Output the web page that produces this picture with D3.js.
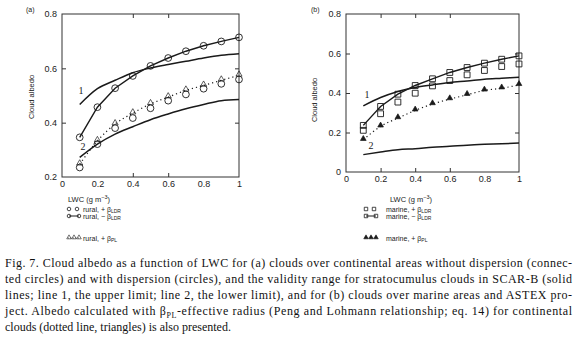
<!DOCTYPE html>
<html><head><meta charset="utf-8">
<script src="https://cdn.jsdelivr.net/npm/d3@7"></script>
<style>
body{margin:0;background:#fff;}
svg{display:block;}
.ax{font-family:"Liberation Sans",Arial,sans-serif;fill:#222;}
.cap{font-family:"Liberation Serif","Times New Roman",serif;font-size:12px;fill:#111;}
</style></head>
<body><svg id="c" width="578" height="345"></svg>
<script>
// ---------- data ----------
const lwc = [0.1,0.2,0.3,0.4,0.5,0.6,0.7,0.8,0.9,1.0];
const xTickVals = [0,0.2,0.4,0.6,0.8,1];
const xTickLabels = ["0","0.2","0.4","0.6","0.8","1"];
const yTicksA = [0.2,0.4,0.6,0.8];
const yTicksB = [0,0.2,0.4,0.6,0.8];

// panel (a) rural
const ruralPlusLDR  = [0.235,0.321,0.380,0.417,0.453,0.481,0.504,0.525,0.543,0.559];
const ruralMinusLDR = [0.346,0.457,0.527,0.572,0.609,0.638,0.663,0.683,0.699,0.714];
const ruralPL       = [0.247,0.333,0.395,0.435,0.469,0.494,0.519,0.537,0.556,0.574];
const ruralUpper    = [0.467,0.525,0.556,0.584,0.601,0.614,0.626,0.638,0.648,0.654];
const ruralLower    = [0.272,0.321,0.358,0.385,0.411,0.432,0.451,0.467,0.481,0.485];

// panel (b) marine
const marinePlusLDR  = [0.211,0.295,0.354,0.399,0.436,0.463,0.492,0.514,0.534,0.547];
const marineMinusLDR = [0.236,0.332,0.394,0.438,0.472,0.504,0.529,0.551,0.571,0.588];
const marinePL       = [0.163,0.231,0.273,0.312,0.344,0.369,0.391,0.413,0.424,0.441];
const marineUpper    = [0.335,0.377,0.408,0.428,0.441,0.453,0.461,0.470,0.475,0.480];
const marineLower    = [0.088,0.101,0.113,0.118,0.125,0.130,0.136,0.140,0.143,0.147];

const captionLines = [
 ["Fig. 7. Cloud albedo as a function of LWC for (a) clouds over continental areas without dispersion (connec-"],
 ["ted circles) and with dispersion (circles), and the validity range for stratocumulus clouds in SCAR-B (solid"],
 ["lines; line 1, the upper limit; line 2, the lower limit), and for (b) clouds over marine areas and ASTEX pro-"],
 ["ject. Albedo calculated with β","PL","-effective radius (Peng and Lohmann relationship; eq. 14) for continental"],
 ["clouds (dotted line, triangles) is also presented."]
];

// ---------- drawing ----------
const svg = d3.select("#c");
const ink = "#1a1a1a";

function panel(cfg){
  const g = svg.append("g");
  const x = d3.scaleLinear().domain([0,1]).range([cfg.x0,cfg.x1]);
  const y = d3.scaleLinear().domain(cfg.yDomain).range([cfg.y1,cfg.y0]);
  g.append("rect").attr("x",cfg.x0).attr("y",cfg.y0).attr("width",cfg.x1-cfg.x0).attr("height",cfg.y1-cfg.y0)
   .attr("fill","none").attr("stroke","#333").attr("stroke-width",1);
  const tl = 4;
  g.append("g").attr("transform",`translate(0,${cfg.y1})`)
   .call(d3.axisBottom(x).tickValues(xTickVals).tickSize(-tl).tickPadding(4).tickFormat((d,i)=>xTickLabels[i]))
   .call(s=>s.select(".domain").remove());
  g.append("g").attr("transform",`translate(0,${cfg.y0})`)
   .call(d3.axisTop(x).tickValues(xTickVals.slice(1,-1)).tickSize(-tl).tickFormat(""))
   .call(s=>s.select(".domain").remove());
  g.append("g").attr("transform",`translate(${cfg.x0},0)`)
   .call(d3.axisLeft(y).tickValues(cfg.yTicks).tickSize(-tl).tickPadding(5).tickFormat(d=>d===0?"0":d3.format(".1f")(d)))
   .call(s=>s.select(".domain").remove());
  g.append("g").attr("transform",`translate(${cfg.x1},0)`)
   .call(d3.axisRight(y).tickValues(cfg.yTicks.slice(1,-1)).tickSize(-tl).tickFormat(""))
   .call(s=>s.select(".domain").remove());
  g.selectAll(".tick line").attr("stroke","#333");
  g.selectAll(".tick text").attr("class","ax").attr("font-size",9).attr("fill","#222");
  g.selectAll(".tick").filter(d=>d===0||d===1).select("line").remove();
  g.selectAll(".tick").filter(d=>d===cfg.yDomain[0]||d===cfg.yDomain[1]).select("line").remove();

  g.append("text").attr("class","ax").attr("font-size",7.5)
   .attr("transform",`translate(${cfg.ylabX},${cfg.ylabY}) rotate(-90)`).attr("text-anchor","middle").text("Cloud albedo");
  const xt = g.append("text").attr("class","ax").attr("font-size",7.5).attr("x",cfg.xlabX).attr("y",cfg.xlabY).attr("text-anchor","middle");
  xt.append("tspan").text("LWC (g m");
  xt.append("tspan").attr("font-size",5.5).attr("dy",-3).text("−3");
  xt.append("tspan").attr("dy",3).text(")");
  g.append("text").attr("class","ax").attr("font-size",7).attr("x",cfg.tagX).attr("y",12).text(cfg.tag);

  const line = d3.line().x((d,i)=>x(lwc[i])).y(d=>y(d)).curve(d3.curveMonotoneX);
  const lineStraight = d3.line().x((d,i)=>x(lwc[i])).y(d=>y(d));
  [cfg.upper,cfg.lower].forEach(arr=>{
    g.append("path").attr("d",line(arr)).attr("fill","none").attr("stroke",ink).attr("stroke-width",1.5);
  });
  g.append("path").attr("d",line(cfg.pl)).attr("fill","none").attr("stroke",ink).attr("stroke-width",1.2).attr("stroke-dasharray","1.2,3");
  g.append("path").attr("d",lineStraight(cfg.minus)).attr("fill","none").attr("stroke",ink).attr("stroke-width",1.4);

  const sym = d3.symbol().type(cfg.symbol).size(cfg.symSize);
  const tri = d3.symbol().type(d3.symbolTriangle).size(cfg.triSize);
  g.selectAll(null).data(cfg.pl).join("path")
   .attr("transform",(d,i)=>`translate(${x(lwc[i])},${y(d)-1})`).attr("d",tri())
   .attr("fill",cfg.triFill).attr("stroke",ink).attr("stroke-width",0.7);
  g.selectAll(null).data(cfg.plus).join("path")
   .attr("transform",(d,i)=>`translate(${x(lwc[i])},${y(d)})`).attr("d",sym())
   .attr("fill","none").attr("stroke",ink).attr("stroke-width",0.9);
  g.selectAll(null).data(cfg.minus).join("path")
   .attr("transform",(d,i)=>`translate(${x(lwc[i])},${y(d)})`).attr("d",sym())
   .attr("fill","none").attr("stroke",ink).attr("stroke-width",0.9);

  g.append("text").attr("x",cfg.n1[0]).attr("y",cfg.n1[1]).attr("font-family","Liberation Serif,serif").attr("font-size",10).attr("text-anchor","middle").attr("fill",ink).text("1");
  g.append("text").attr("x",cfg.n2[0]).attr("y",cfg.n2[1]).attr("font-family","Liberation Serif,serif").attr("font-size",10).attr("text-anchor","middle").attr("fill",ink).text("2");

  const lx = cfg.legX, rows = [209,216,238];
  const symSmall = d3.symbol().type(cfg.symbol).size(cfg.legSymSize);
  [lx+2, lx+10].forEach(px=>g.append("path").attr("transform",`translate(${px},${rows[0]})`).attr("d",symSmall()).attr("fill","none").attr("stroke",ink).attr("stroke-width",0.8));
  g.append("line").attr("x1",lx+2).attr("x2",lx+12).attr("y1",rows[1]).attr("y2",rows[1]).attr("stroke",ink).attr("stroke-width",1);
  [lx+2, lx+12].forEach(px=>g.append("path").attr("transform",`translate(${px},${rows[1]})`).attr("d",symSmall()).attr("fill","none").attr("stroke",ink).attr("stroke-width",0.8));
  const triSmall = d3.symbol().type(d3.symbolTriangle).size(9);
  g.append("line").attr("x1",lx+1).attr("x2",lx+13).attr("y1",rows[2]).attr("y2",rows[2]).attr("stroke",ink).attr("stroke-width",0.6).attr("stroke-dasharray","1,1.5");
  [lx+2, lx+7, lx+12].forEach(px=>g.append("path").attr("transform",`translate(${px},${rows[2]-0.5})`).attr("d",triSmall()).attr("fill",cfg.triFill).attr("stroke",ink).attr("stroke-width",0.6));
  const labels = [[cfg.name+", + β","LDR"],[cfg.name+", − β","LDR"],[cfg.name+", + β","PL"]];
  labels.forEach((l,i)=>{
    const t = g.append("text").attr("class","ax").attr("font-size",7).attr("x",lx+cfg.legTextOff).attr("y",rows[i]+2.5);
    t.append("tspan").text(l[0]);
    t.append("tspan").attr("font-size",5).attr("dy",1.5).text(l[1]);
  });
}

panel({tag:"(a)",tagX:26,x0:62,x1:239,y0:14,y1:177,yDomain:[0.2,0.8],yTicks:yTicksA,
  ylabX:34,ylabY:97,xlabX:89,xlabY:202,
  upper:ruralUpper,lower:ruralLower,pl:ruralPL,plus:ruralPlusLDR,minus:ruralMinusLDR,
  symbol:d3.symbolCircle,symSize:36,triSize:16,triFill:"none",legSymSize:10,
  n1:[81,94],n2:[83,150],legX:67,legTextOff:16,name:"rural"});
panel({tag:"(b)",tagX:311,x0:346,x1:519,y0:14,y1:172,yDomain:[0,0.8],yTicks:yTicksB,
  ylabX:317,ylabY:100,xlabX:411,xlabY:202,
  upper:marineUpper,lower:marineLower,pl:marinePL,plus:marinePlusLDR,minus:marineMinusLDR,
  symbol:d3.symbolSquare,symSize:34,triSize:14,triFill:ink,legSymSize:12,
  n1:[367,98],n2:[371,149],legX:364,legTextOff:22,name:"marine"});

const capY = [267,283,299,315,331];
captionLines.forEach((parts,i)=>{
  const t = svg.append("text").attr("class","cap").attr("x",5).attr("y",capY[i]);
  if(i<4) t.attr("textLength",567).attr("lengthAdjust","spacing");
  parts.forEach((p,j)=>{
    const ts = t.append("tspan").text(p);
    if(parts.length>1 && j===1) ts.attr("font-size",8).attr("dy",3);
    if(parts.length>1 && j===2) ts.attr("dy",-3);
  });
});
</script></body></html>
